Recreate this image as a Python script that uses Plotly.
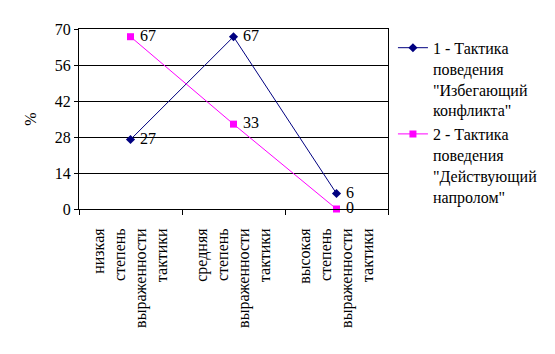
import plotly.graph_objects as go

categories = ["низкая<br>степень<br>выраженности<br>тактики",
              "средняя<br>степень<br>выраженности<br>тактики",
              "высокая<br>степень<br>выраженности<br>тактики"]
series1_name = "1 - Тактика<br>поведения<br>\"Избегающий<br>конфликта\""
series1 = [27, 67, 6]
series2_name = "2 - Тактика<br>поведения<br>\"Действующий<br>напролом\""
series2 = [67, 33, 0]
y_ticks = [0, 14, 28, 42, 56, 70]

FAM = "Liberation Serif"


def f(size=16):
    return dict(family=FAM, size=size, color="black")


fig = go.Figure()
fig.add_trace(go.Scatter(
    x=categories, y=series1, name=series1_name, mode="lines+markers+text",
    line=dict(color="#000080", width=1),
    marker=dict(symbol="diamond", size=7, color="#000080"),
    text=["\u00a0" + str(v) for v in series1], textposition="middle right",
    textfont=f(), cliponaxis=False))
fig.add_trace(go.Scatter(
    x=categories, y=series2, name=series2_name, mode="lines+markers+text",
    line=dict(color="#FF00FF", width=1),
    marker=dict(symbol="square", size=7, color="#FF00FF"),
    text=["\u00a0" + str(v) for v in series2], textposition="middle right",
    textfont=f(), cliponaxis=False))

fig.update_layout(
    width=555, height=354,
    margin=dict(l=79, r=165, t=29, b=145),
    paper_bgcolor="white", plot_bgcolor="white",
    showlegend=True,
    legend=dict(x=1.016, y=0.99, xanchor="left", yanchor="top",
                font=f(), bgcolor="rgba(0,0,0,0)", tracegroupgap=4,
                itemwidth=30, valign="top", maxheight=340),
)
fig.update_xaxes(
    type="category", range=[-0.5, 2.5], tickangle=-90, tickson="boundaries",
    ticks="outside", ticklen=5, tickcolor="black", ticklabelstandoff=12,
    showline=True, linecolor="black", linewidth=1, mirror=True,
    showgrid=False, tickfont=f(), zeroline=False)
fig.update_yaxes(
    range=[0, 70], tickvals=y_ticks, ticks="outside", ticklen=4, tickcolor="black",
    showline=True, linecolor="black", linewidth=1, mirror=True,
    showgrid=True, gridcolor="black", gridwidth=1, zeroline=False,
    tickfont=f(), title=dict(text="%", font=f(), standoff=14))

fig.write_html("out.html")
